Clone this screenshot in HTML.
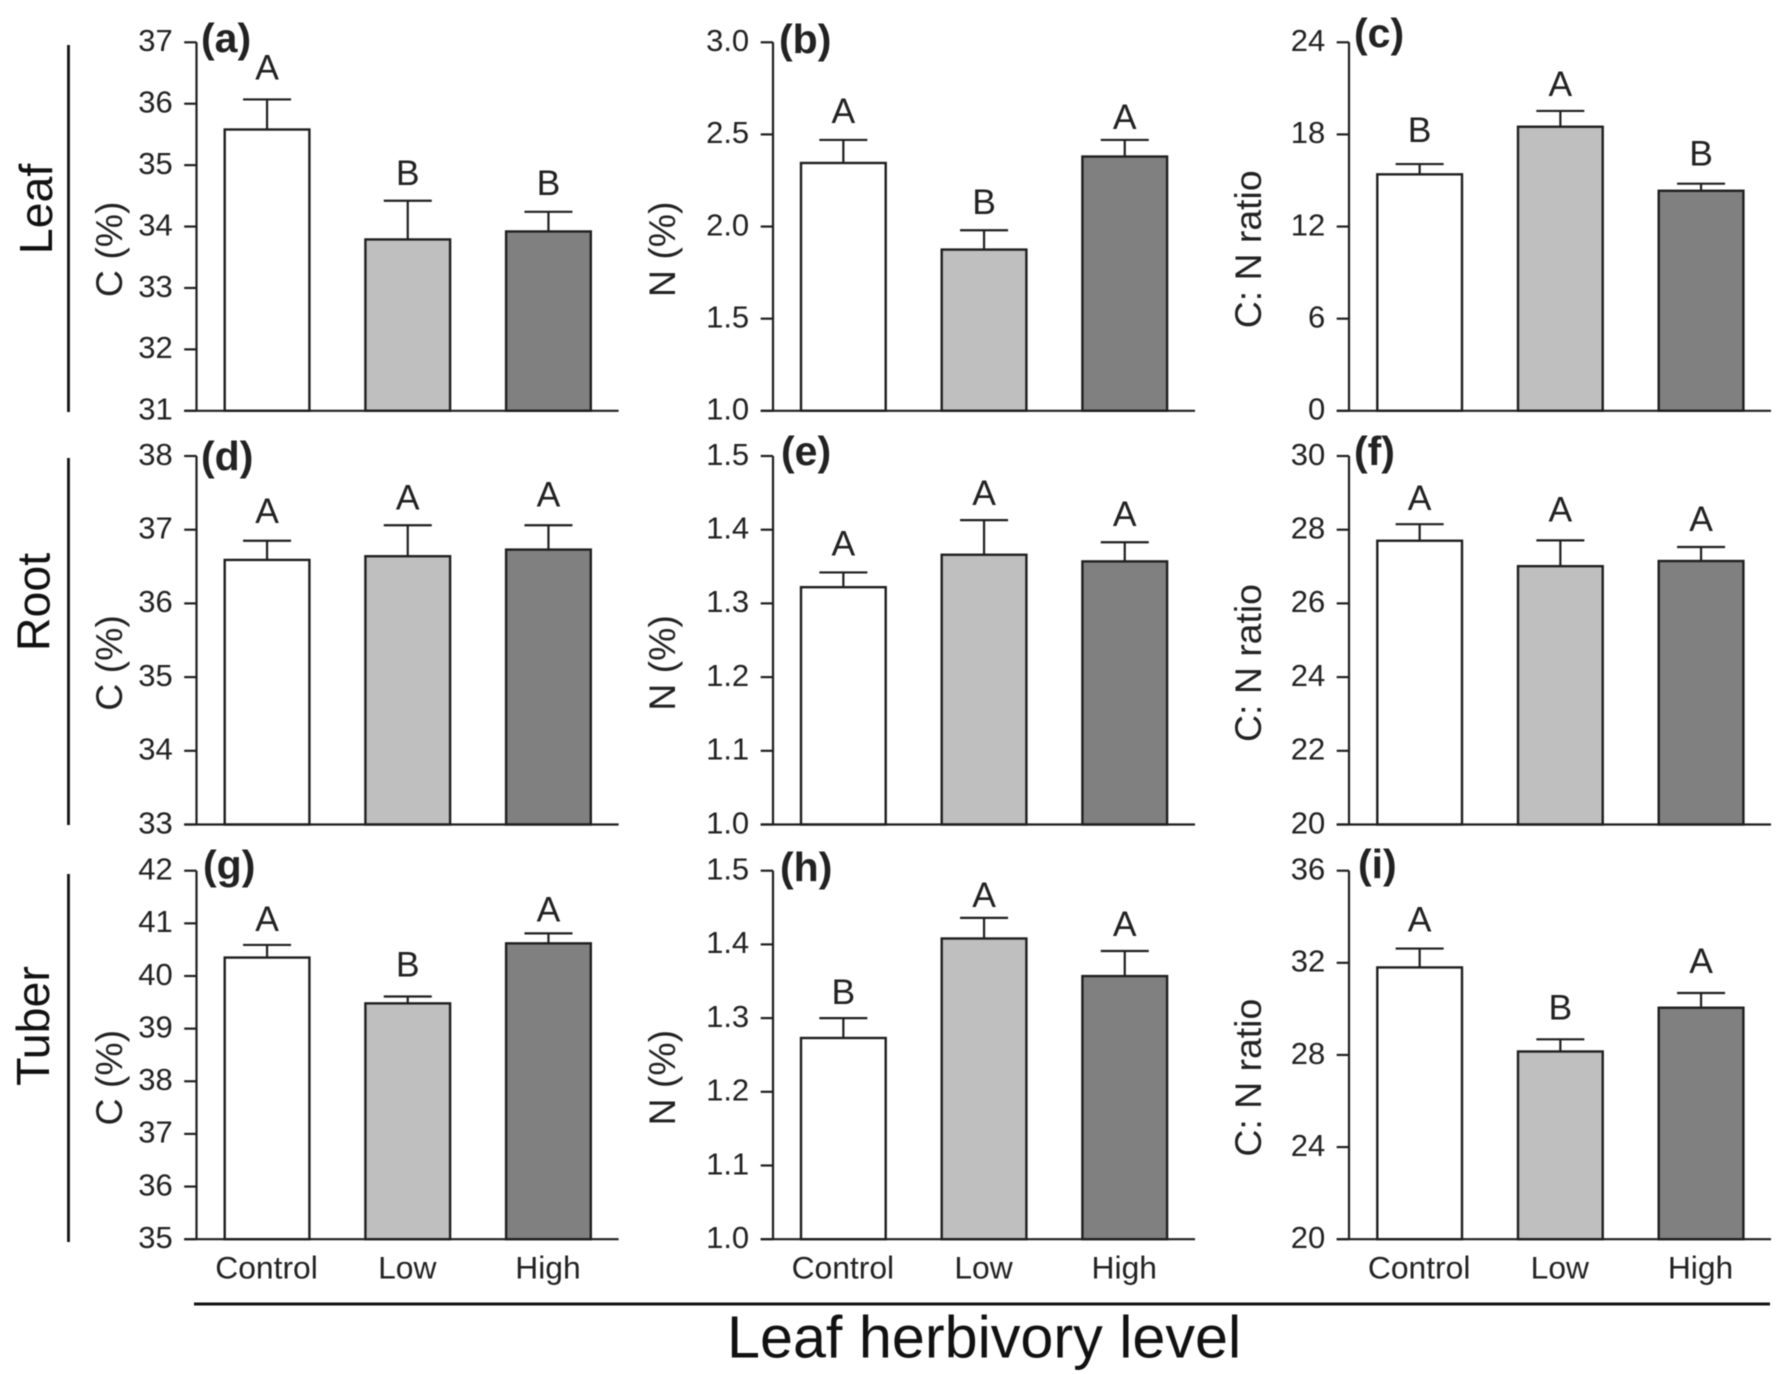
<!DOCTYPE html>
<html lang="en">
<head>
<meta charset="utf-8">
<title>Leaf herbivory level: C, N and C:N in leaf, root and tuber</title>
<style>
  html, body { margin: 0; padding: 0; background: #fff; }
  body { width: 1785px; height: 1374px; overflow: hidden; }
  svg { display: block; filter: blur(0.45px); }
  text { font-family: "Liberation Sans", Arial, sans-serif; fill: #222; }
</style>
</head>
<body>
<svg id="chart" xmlns="http://www.w3.org/2000/svg" width="1785" height="1374" viewBox="0 0 1785 1374">
  <rect x="0" y="0" width="1785" height="1374" fill="#fff"/>
  <line x1="68.5" y1="45" x2="68.5" y2="412" stroke="#111" stroke-width="2.8"/>
  <line x1="68.5" y1="458" x2="68.5" y2="825" stroke="#111" stroke-width="2.8"/>
  <line x1="68.5" y1="874" x2="68.5" y2="1242" stroke="#111" stroke-width="2.8"/>
  <text transform="translate(52,209) rotate(-90)" text-anchor="middle" font-size="46.5" style="fill:#111">Leaf</text>
  <text transform="translate(49.5,602) rotate(-90)" text-anchor="middle" font-size="46.5" style="fill:#111">Root</text>
  <text transform="translate(49,1026) rotate(-90)" text-anchor="middle" font-size="46.5" style="fill:#111">Tuber</text>
  <line x1="194" y1="1304" x2="1770" y2="1304" stroke="#111" stroke-width="3"/>
  <text x="727" y="1357.5" font-size="59.3" style="fill:#111">Leaf herbivory level</text>
</svg>
<script>
// ---- data ----
const categories = ["Control", "Low", "High"];
const barFills = ["#ffffff", "#bfbfbf", "#808080"];
const panelIds = ["a", "b", "c", "d", "e", "f", "g", "h", "i"];
const yTitles = ["C (%)", "N (%)", "C: N ratio"];

const ticks_a = ["31", "32", "33", "34", "35", "36", "37"];
const ticks_b = ["1.0", "1.5", "2.0", "2.5", "3.0"];
const ticks_c = ["0", "6", "12", "18", "24"];
const ticks_d = ["33", "34", "35", "36", "37", "38"];
const ticks_e = ["1.0", "1.1", "1.2", "1.3", "1.4", "1.5"];
const ticks_f = ["20", "22", "24", "26", "28", "30"];
const ticks_g = ["35", "36", "37", "38", "39", "40", "41", "42"];
const ticks_h = ["1.0", "1.1", "1.2", "1.3", "1.4", "1.5"];
const ticks_i = ["20", "24", "28", "32", "36"];

const means_a = [35.58, 33.79, 33.92];
const means_b = [2.345, 1.875, 2.38];
const means_c = [15.4, 18.5, 14.33];
const means_d = [36.59, 36.64, 36.73];
const means_e = [1.322, 1.366, 1.357];
const means_f = [27.70, 27.01, 27.15];
const means_g = [40.35, 39.48, 40.62];
const means_h = [1.273, 1.408, 1.357];
const means_i = [31.8, 28.15, 30.05];

const errorTops_a = [36.07, 34.42, 34.24];
const errorTops_b = [2.47, 1.98, 2.47];
const errorTops_c = [16.07, 19.53, 14.79];
const errorTops_d = [36.85, 37.06, 37.06];
const errorTops_e = [1.342, 1.413, 1.383];
const errorTops_f = [28.15, 27.71, 27.53];
const errorTops_g = [40.59, 39.61, 40.81];
const errorTops_h = [1.30, 1.436, 1.391];
const errorTops_i = [32.62, 28.68, 30.69];

const letters_a = ["A", "B", "B"];
const letters_b = ["A", "B", "A"];
const letters_c = ["B", "A", "B"];
const letters_d = ["A", "A", "A"];
const letters_e = ["A", "A", "A"];
const letters_f = ["A", "A", "A"];
const letters_g = ["A", "B", "A"];
const letters_h = ["B", "A", "A"];
const letters_i = ["A", "B", "A"];

const allTicks = [ticks_a, ticks_b, ticks_c, ticks_d, ticks_e, ticks_f, ticks_g, ticks_h, ticks_i];
const allMeans = [means_a, means_b, means_c, means_d, means_e, means_f, means_g, means_h, means_i];
const allErrorTops = [errorTops_a, errorTops_b, errorTops_c, errorTops_d, errorTops_e, errorTops_f, errorTops_g, errorTops_h, errorTops_i];
const allLetters = [letters_a, letters_b, letters_c, letters_d, letters_e, letters_f, letters_g, letters_h, letters_i];

// ---- layout (not data) ----
const columnLayout = [
  { axisX: 196.5, firstBar: 224.7, axisEnd: 618.6, titleX: 122 },
  { axisX: 773,   firstBar: 801,   axisEnd: 1195,  titleX: 675 },
  { axisX: 1349,  firstBar: 1377.3, axisEnd: 1771, titleX: 1261 }
];
const rowTops = [42.3, 456, 870.7];
const plotHeight = 368.5;
const barWidth = 84.7;
const barStep = 140.7;
const tickLength = 12.3;
const capWidth = 48;
const panelLabelLayout = [[201,52],[779,53],[1354,47],[201,470],[781,465],[1354,465],[203,879],[780,881],[1358,878]];
const letterGaps = [[20,16,17],[17,16,11],[22,15,18],[18,16,19],[17,15,16],[14,19,16],[14,20,12],[14,11,15],[17,20,20]];

const SVG_NS = "http://www.w3.org/2000/svg";
const svg = document.getElementById("chart");
const INK = "#1f1f1f";

function line(parent, x1, y1, x2, y2, width) {
  const el = document.createElementNS(SVG_NS, "line");
  el.setAttribute("x1", x1);
  el.setAttribute("y1", y1);
  el.setAttribute("x2", x2);
  el.setAttribute("y2", y2);
  el.setAttribute("stroke", INK);
  el.setAttribute("stroke-width", width);
  parent.appendChild(el);
  return el;
}
function label(parent, str, x, y, size, anchor) {
  const el = document.createElementNS(SVG_NS, "text");
  el.setAttribute("x", x);
  el.setAttribute("y", y);
  el.setAttribute("font-size", size);
  el.setAttribute("text-anchor", anchor);
  el.textContent = str;
  parent.appendChild(el);
  return el;
}
function yScale(tickStrings, top) {
  const lo = parseFloat(tickStrings[0]);
  const hi = parseFloat(tickStrings[tickStrings.length - 1]);
  return function (v) { return top + plotHeight - (v - lo) / (hi - lo) * plotHeight; };
}
function xScale(col, i) {
  return columnLayout[col].firstBar + i * barStep;
}

panelIds.forEach(function (id, p) {
  const col = p % 3;
  const row = Math.floor(p / 3);
  const top = rowTops[row];
  const bottom = top + plotHeight;
  const layout = columnLayout[col];
  const y = yScale(allTicks[p], top);

  const g = document.createElementNS(SVG_NS, "g");
  
  
  svg.appendChild(g);

  // bars and error bars
  categories.forEach(function (cat, i) {
    const left = xScale(col, i);
    const center = left + barWidth / 2;
    const barTop = y(allMeans[p][i]);
    const errTop = y(allErrorTops[p][i]);

    const stem = line(g, center, barTop, center, errTop, 2.2);
    
    
    const cap = line(g, center - capWidth / 2, errTop, center + capWidth / 2, errTop, 2.2);
    
    

    const bar = document.createElementNS(SVG_NS, "rect");
    bar.setAttribute("x", left);
    bar.setAttribute("y", barTop);
    bar.setAttribute("width", barWidth);
    bar.setAttribute("height", bottom - barTop);
    bar.setAttribute("fill", barFills[i]);
    bar.setAttribute("stroke", INK);
    bar.setAttribute("stroke-width", 2.4);
    
    
    g.appendChild(bar);

    const letter = label(g, allLetters[p][i], center, errTop - letterGaps[p][i], 35.5, "middle");
    
    

    if (row === 2) {
      const catLabel = label(g, cat, center - 0.5, 1278.5, 31.8, "middle");
      
      
    }
  });

  // axes
  const yAxis = line(g, layout.axisX, top, layout.axisX, bottom, 2.2);
  
  
  const xAxis = line(g, layout.axisX - tickLength, bottom, layout.axisEnd, bottom, 2.2);
  
  

  allTicks[p].forEach(function (t) {
    const ty = y(parseFloat(t));
    const tick = line(g, layout.axisX - tickLength, ty, layout.axisX, ty, 2.2);
    
    
    const tickText = label(g, t, layout.axisX - tickLength - 11.5, ty + 8.8, 31, "end");
    
    
  });

  // y title
  const title = document.createElementNS(SVG_NS, "text");
  title.setAttribute("transform", "translate(" + layout.titleX + "," + (top + 207) + ") rotate(-90)");
  title.setAttribute("text-anchor", "middle");
  title.setAttribute("font-size", 37.4);
  title.textContent = yTitles[col];
  
  
  g.appendChild(title);

  // panel tag
  const tag = label(g, "(" + id + ")", panelLabelLayout[p][0], panelLabelLayout[p][1], 41, "start");
  tag.setAttribute("font-weight", "bold");
  
  
});
</script>
</body>
</html>
